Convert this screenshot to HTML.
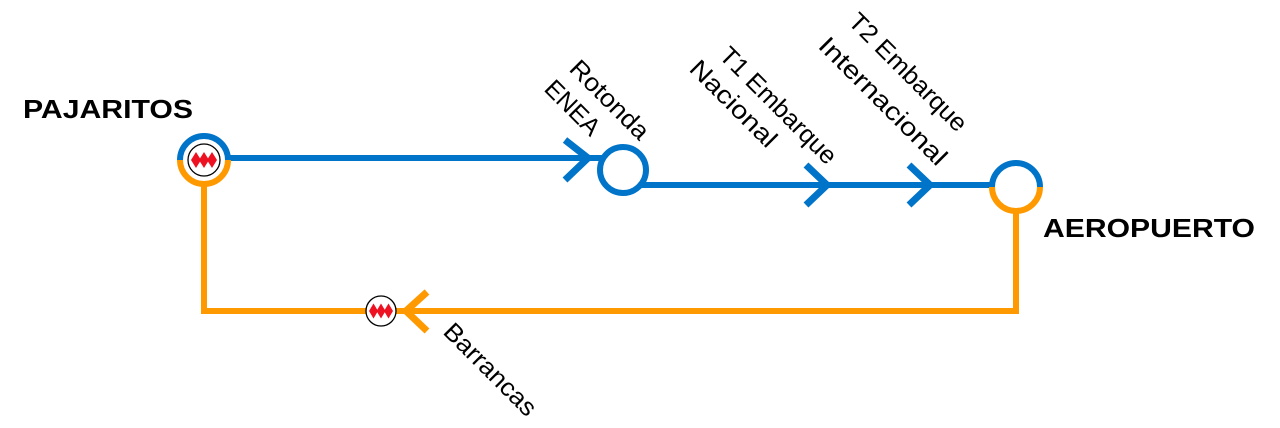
<!DOCTYPE html>
<html><head><meta charset="utf-8"><style>
html,body{margin:0;padding:0;background:#fff;}
svg{display:block;}
text{font-family:"Liberation Sans",sans-serif;fill:#000;}
</style></head><body>
<svg width="1280" height="428" viewBox="0 0 1280 428" xmlns="http://www.w3.org/2000/svg">
<g fill="none" stroke-width="6">
  <polyline points="1016,210 1016,311 204,311 204,184" stroke="#ff9900"/>
  <line x1="228" y1="158" x2="602" y2="158" stroke="#0074c8"/>
  <path d="M632,185 L992,185" stroke="#0074c8"/>
  <polyline points="565,140 588,158 565,180" stroke="#0074c8" stroke-width="7"/>
  <polyline points="806,165 827,185 806,205" stroke="#0074c8" stroke-width="7"/>
  <polyline points="909,165 930,185 909,205" stroke="#0074c8" stroke-width="7"/>
  <polyline points="427,292 406,311 427,331" stroke="#ff9900" stroke-width="7"/>
  <circle cx="623" cy="170" r="23" stroke="#0074c8" fill="#fff"/>
  <path d="M180,160 A24,24 0 0 1 228,160" stroke="#0074c8"/>
  <path d="M180,160 A24,24 0 0 0 228,160" stroke="#ff9900"/>
  <path d="M992,187 A24,24 0 0 1 1040,187" stroke="#0074c8"/>
  <path d="M992,187 A24,24 0 0 0 1040,187" stroke="#ff9900"/>
</g>
<circle cx="204" cy="160" r="16" fill="#fff" stroke="#000" stroke-width="1.3"/>
<g fill="#ee1122">
  <polygon points="196,152 201,160 196,168 191,160"/>
  <polygon points="204,152 209,160 204,168 199,160"/>
  <polygon points="212,152 217,160 212,168 207,160"/>
</g>
<circle cx="381" cy="311" r="15" fill="#fff" stroke="#000" stroke-width="1.3"/>
<g fill="#ee1122">
  <polygon points="373.5,303.5 378,311 373.5,318.5 369,311"/>
  <polygon points="381,303.5 385.5,311 381,318.5 376.5,311"/>
  <polygon points="388.5,303.5 393,311 388.5,318.5 384,311"/>
</g>
<text x="23" y="118" font-size="26" font-weight="bold" textLength="170" lengthAdjust="spacingAndGlyphs">PAJARITOS</text>
<text x="1043" y="237" font-size="26" font-weight="bold" textLength="212" lengthAdjust="spacingAndGlyphs">AEROPUERTO</text>
<g font-size="25">
<text transform="translate(568,70) rotate(45)" textLength="101" lengthAdjust="spacingAndGlyphs">Rotonda</text>
<text transform="translate(543,90) rotate(45)" textLength="67" lengthAdjust="spacingAndGlyphs">ENEA</text>
<text transform="translate(718,57) rotate(45)" textLength="154" lengthAdjust="spacingAndGlyphs">T1 Embarque</text>
<text transform="translate(688,70) rotate(45)" textLength="112" lengthAdjust="spacingAndGlyphs">Nacional</text>
<text transform="translate(847,23) rotate(45)" textLength="156" lengthAdjust="spacingAndGlyphs">T2 Embarque</text>
<text transform="translate(817,47) rotate(45)" textLength="170" lengthAdjust="spacingAndGlyphs">Internacional</text>
<text transform="translate(442,333) rotate(45)" textLength="120" lengthAdjust="spacingAndGlyphs">Barrancas</text>
</g>
</svg>
</body></html>
